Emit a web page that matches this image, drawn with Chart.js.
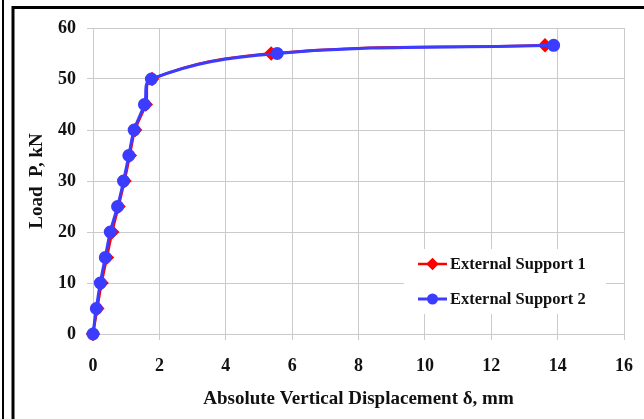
<!DOCTYPE html>
<html lang="en">
<head>
    <meta charset="UTF-8">
    <title>Load - Displacement</title>
    <style>
        html, body {
            margin: 0;
            padding: 0;
            background: #fff;
        }
        #wrap {
            width: 644px;
            height: 419px;
        }
    </style>
</head>
<body>
    <div id="wrap"><canvas id="loadChart"></canvas></div>
    <script src="https://cdn.jsdelivr.net/npm/chart.js"></script>
    <script>
        // load steps, kN
        const loads = [0, 5, 10, 15, 20, 25, 30, 35, 40, 45, 50, 55, 56.6];
        // absolute vertical displacement, mm
        const support1 = [0, 0.13, 0.26, 0.42, 0.58, 0.77, 0.95, 1.11, 1.27, 1.59, 1.78, 5.37, 13.62];
        const support2 = [0, 0.10, 0.22, 0.37, 0.52, 0.74, 0.92, 1.08, 1.24, 1.55, 1.76, 5.55, 13.88];
        const seriesNames = ['External Support 1', 'External Support 2'];

        const FONT = "'Liberation Serif', 'Times New Roman', serif";
        const RED = '#ff0000';
        const BLUE = '#3c3cff';

        function toPoints(xs) {
            return xs.map((x, i) => ({ x: x, y: loads[i] }));
        }

        // white page with the black frame lines
        const framePlugin = {
            id: 'frame',
            beforeDraw(chart) {
                const ctx = chart.ctx;
                ctx.save();
                ctx.fillStyle = '#fff';
                ctx.fillRect(0, 0, chart.width, chart.height);
                ctx.strokeStyle = '#000';
                ctx.lineWidth = 2;
                ctx.beginPath();
                ctx.moveTo(3, 0);
                ctx.lineTo(3, chart.height);
                ctx.stroke();
                ctx.lineWidth = 3;
                ctx.beginPath();
                ctx.moveTo(13, chart.height);
                ctx.lineTo(13, 7.5);
                ctx.lineTo(chart.width, 7.5);
                ctx.stroke();
                ctx.restore();
            }
        };

        // legend box inside the plot, line + marker sample like a spreadsheet chart
        const insideLegend = {
            id: 'insideLegend',
            beforeDatasetsDraw(chart) {
                const ctx = chart.ctx;
                const area = chart.chartArea;
                const bx = area.right - 220, by = area.bottom - 85;
                ctx.save();
                ctx.fillStyle = '#fff';
                ctx.fillRect(bx, by, 202, 65);
                chart.data.datasets.forEach((ds, i) => {
                    const y = by + 15 + i * 35;
                    const x0 = bx + 14, x1 = bx + 43;
                    ctx.strokeStyle = ds.borderColor;
                    ctx.lineWidth = ds.borderWidth;
                    ctx.beginPath();
                    ctx.moveTo(x0, y);
                    ctx.lineTo(x1, y);
                    ctx.stroke();
                    Chart.helpers.drawPoint(ctx, {
                        pointStyle: ds.pointStyle,
                        radius: ds.pointRadius - 1,
                        borderWidth: 1
                    }, (x0 + x1) / 2, y);
                    ctx.fillStyle = ds.pointBackgroundColor;
                    ctx.fill();
                    ctx.fillStyle = '#111';
                    ctx.font = 'bold 16.5px ' + FONT;
                    ctx.textAlign = 'left';
                    ctx.textBaseline = 'middle';
                    ctx.fillText(ds.label, x1 + 3, y + 1);
                });
                ctx.restore();
            }
        };

        const tickFont = { family: FONT, size: 18, weight: 'bold' };
        const titleFont = { family: FONT, size: 19, weight: 'bold' };

        const ctx = document.getElementById('loadChart').getContext('2d');
        new Chart(ctx, {
            type: 'line',
            data: {
                datasets: [{
                    label: seriesNames[0],
                    data: toPoints(support1),
                    borderColor: RED,
                    backgroundColor: RED,
                    pointBackgroundColor: RED,
                    pointBorderColor: RED,
                    pointStyle: 'rectRot',
                    pointRadius: 5.5,
                    borderWidth: 2.5,
                    tension: 0.4,
                    clip: false,
                    order: 1
                }, {
                    label: seriesNames[1],
                    data: toPoints(support2),
                    borderColor: BLUE,
                    backgroundColor: BLUE,
                    pointBackgroundColor: BLUE,
                    pointBorderColor: BLUE,
                    pointStyle: 'circle',
                    pointRadius: 5,
                    borderWidth: 3,
                    tension: 0.4,
                    clip: false,
                    order: 0
                }]
            },
            options: {
                responsive: true,
                maintainAspectRatio: false,
                animation: false,
                layout: { padding: { left: 0, top: 28, right: 20, bottom: 0 } },
                plugins: {
                    legend: { display: false },
                    tooltip: { enabled: false }
                },
                scales: {
                    x: {
                        type: 'linear',
                        min: 0,
                        max: 16,
                        ticks: {
                            stepSize: 2,
                            padding: 16,
                            color: '#111',
                            font: tickFont
                        },
                        grid: { color: '#cacaca', lineWidth: 1, tickLength: 6 },
                        border: { color: '#cacaca' },
                        title: {
                            display: true,
                            text: 'Absolute Vertical Displacement δ, mm',
                            color: '#111',
                            font: titleFont,
                            padding: { top: 0, bottom: 8.5 }
                        },
                        afterFit(scale) {
                            scale.height = 85;
                            scale.paddingLeft = 0;
                            scale.paddingRight = 0;
                        }
                    },
                    y: {
                        min: 0,
                        max: 60,
                        ticks: {
                            stepSize: 10,
                            padding: 11,
                            color: '#111',
                            font: tickFont
                        },
                        grid: { color: '#cacaca', lineWidth: 1, tickLength: 6 },
                        border: { color: '#cacaca' },
                        title: {
                            display: true,
                            text: 'Load  P, kN',
                            color: '#111',
                            font: titleFont,
                            padding: { top: 25.5, bottom: 0 }
                        },
                        afterFit(scale) {
                            scale.width = 93;
                            scale.paddingTop = 0;
                            scale.paddingBottom = 0;
                        }
                    }
                }
            },
            plugins: [framePlugin, insideLegend]
        });
    </script>
</body>
</html>
